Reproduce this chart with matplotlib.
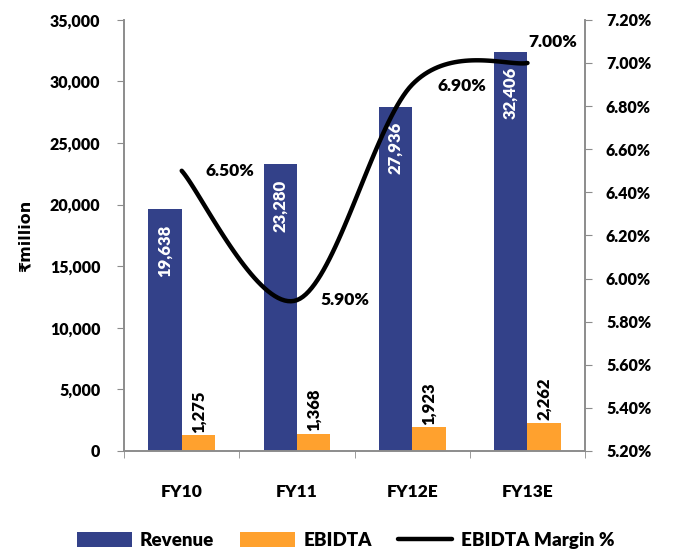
import numpy as np
import matplotlib
matplotlib.use("Agg")
import matplotlib.pyplot as plt
from matplotlib.ticker import FuncFormatter, MultipleLocator

plt.rcParams['font.family'] = ['Lato', 'DejaVu Sans']
plt.rcParams['font.weight'] = 'heavy'

# figures in Rs million
years = ["FY10", "FY11", "FY12E", "FY13E"]
revenue = [19638, 23280, 27936, 32406]
ebidta = [1275, 1368, 1923, 2262]
margin = [6.50, 5.90, 6.90, 7.00]

navy = "#334189"
orange = "#FFA12E"
grey = "#8c8c8c"
fs = 12

fig = plt.figure(figsize=(6.78, 5.52), dpi=100)
ax = fig.add_axes([0.183, 0.183, 0.680, 0.781])
ax2 = ax.twinx()

x = np.arange(len(years))
w = 0.29
ax.bar(x - w / 2, revenue, w, color=navy, label="Revenue", zorder=2)
ax.bar(x + w / 2, ebidta, w, color=orange, label="EBIDTA", zorder=2)

ax.set_xlim(-0.5, len(years) - 0.5)
ax.set_ylim(0, 35000)
ax.yaxis.set_major_locator(MultipleLocator(5000))
ax.yaxis.set_major_formatter(FuncFormatter(lambda v, p: f"{v:,.0f}"))
ax.set_xticks(x)
ax.set_xticklabels(years)
ax.set_xticks(np.arange(-0.5, len(years)), minor=True)
ax.tick_params(axis='x', which='major', length=0, pad=24, labelsize=12.5)
ax.tick_params(axis='x', which='minor', length=5, color=grey)
ax.tick_params(axis='y', length=5, color=grey, labelsize=11.5, pad=12)
ax.set_ylabel("₹million", fontsize=11.5, fontweight='bold', labelpad=12,
              family=['DejaVu Sans'])

for a in (ax, ax2):
    a.spines['top'].set_visible(False)
    for s in ('left', 'right', 'bottom'):
        a.spines[s].set_color(grey)
        a.spines[s].set_linewidth(1.2)

# value labels on bars
for xi, v in zip(x, revenue):
    ax.annotate(f"{v:,}", (xi - w / 2, v), xytext=(0, -11), textcoords='offset points',
                rotation=90, ha='center', va='top', color='white', fontsize=fs,
                zorder=3)
for xi, v in zip(x, ebidta):
    ax.annotate(f"{v:,}", (xi + w / 2, v), xytext=(0, 2), textcoords='offset points',
                rotation=90, ha='center', va='bottom', color='black', fontsize=fs,
                zorder=3)

# margin line, smoothed with cubic Bezier segments (computed in screen-like units)
ax2.set_ylim(5.2, 7.2)
ax2.yaxis.set_major_locator(MultipleLocator(0.2))
ax2.yaxis.set_major_formatter(FuncFormatter(lambda v, p: f"{v:.2f}%"))
ax2.tick_params(axis='y', length=5, color=grey, labelsize=11.5, pad=10)

sx, sy = 115.0, 431.0 / 2.0
px = x * sx
py = (np.array(margin) - 5.2) * sy
pts = np.column_stack([px, py])
ext = np.vstack([pts[0], pts, pts[-1]])
curve = []
t = np.linspace(0, 1, 40)[:, None]
for i in range(len(pts) - 1):
    p0, p3 = ext[i + 1], ext[i + 2]
    c1 = p0 + (ext[i + 2] - ext[i]) / 6.0
    c2 = p3 - (ext[i + 3] - ext[i + 1]) / 6.0
    seg = ((1 - t) ** 3) * p0 + 3 * ((1 - t) ** 2) * t * c1 + 3 * (1 - t) * t ** 2 * c2 + t ** 3 * p3
    curve.append(seg)
curve = np.vstack(curve)
ax2.plot(curve[:, 0] / sx, curve[:, 1] / sy + 5.2, color='black', lw=3.2,
         solid_capstyle='round', label="EBIDTA Margin %", zorder=4)

offsets = [(17, 0), (17, 0), (18, -1), (1, 15)]
for xi, m, off in zip(x, margin, offsets):
    ax2.annotate(f"{m:.2f}%", (xi, m), xytext=off, textcoords='offset points',
                 ha='left', va='center', fontsize=12.5)

h1, l1 = ax.get_legend_handles_labels()
h2, l2 = ax2.get_legend_handles_labels()
fig.legend(h1 + h2, l1 + l2, loc='center', bbox_to_anchor=(0.51, 0.02), ncol=3,
           frameon=False, fontsize=13.5, handlelength=2.9, handleheight=0.85,
           columnspacing=1.4, handletextpad=0.45)

fig.savefig("out.png", dpi=100)
